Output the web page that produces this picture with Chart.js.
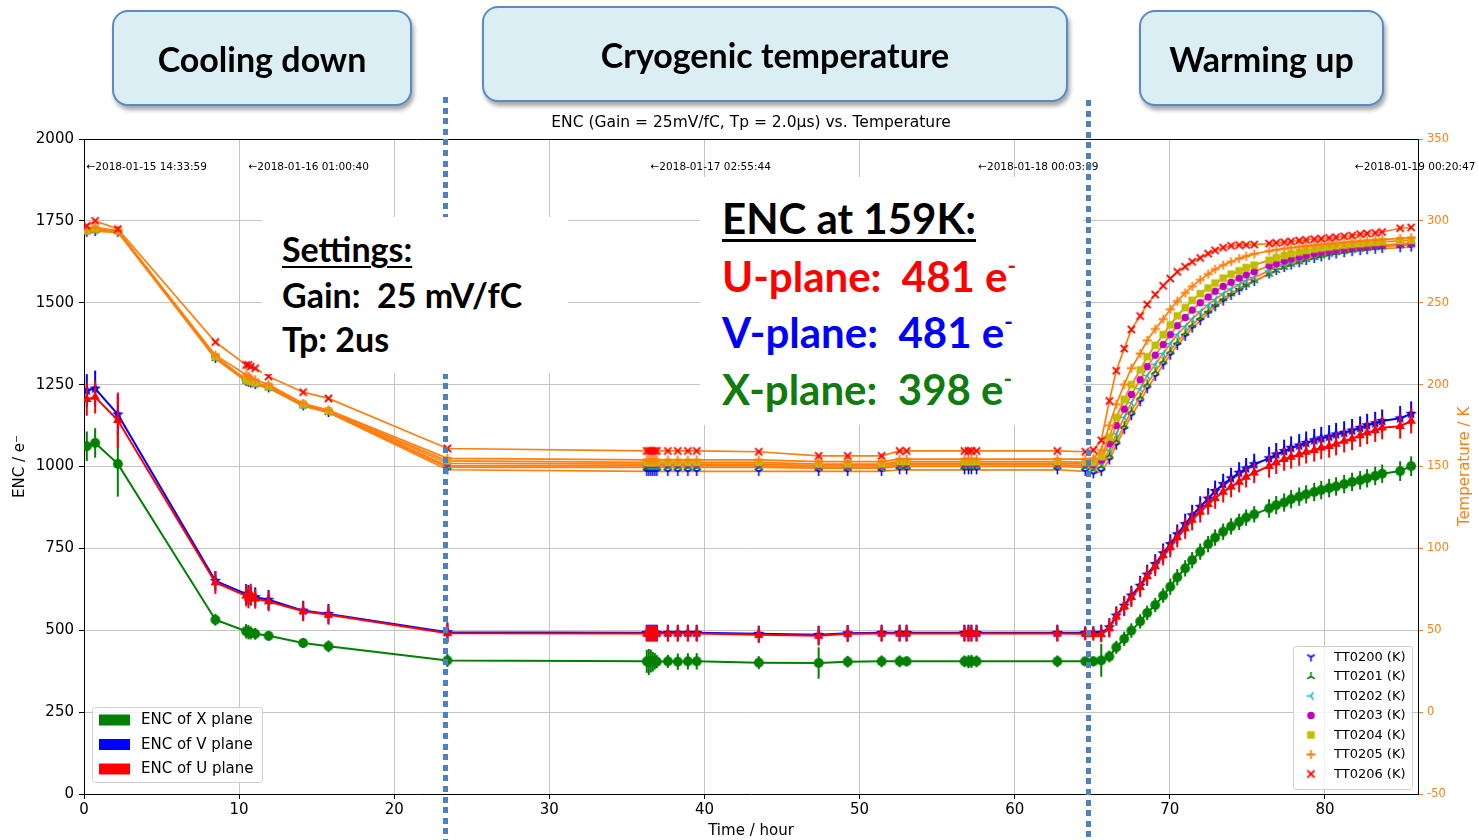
<!DOCTYPE html>
<html><head><meta charset="utf-8">
<script src="https://cdn.jsdelivr.net/npm/chart.js@4.4.1/dist/chart.umd.min.js"></script>
<style>
body{margin:0;background:#fff;}
#wrap{position:relative;width:1478px;height:840px;overflow:hidden;background:#fff;}
#c{position:absolute;left:0;top:0;}
.vline{position:absolute;width:5px;background:repeating-linear-gradient(to bottom,#4f81bd 0,#4f81bd 6px,rgba(0,0,0,0) 6px,rgba(0,0,0,0) 10.6px);}
.panel{position:absolute;background:#fff;}
.box{position:absolute;background:#dbeef4;border:2px solid #5b8bc4;border-radius:16px;box-shadow:2px 4px 4px rgba(0,0,0,0.35);box-sizing:border-box;display:flex;align-items:center;justify-content:center;font-family:Lato,sans-serif;font-weight:bold;font-size:34px;color:#000;}
.t{position:absolute;font-family:Lato,sans-serif;font-weight:bold;line-height:1;white-space:nowrap;}
.t sup{font-size:0.55em;vertical-align:0.8em;line-height:0;}
</style></head>
<body><div id="wrap">
<canvas id="c" width="1478" height="840"></canvas>
<div class="vline" style="left:443px;top:97px;height:743px"></div>
<div class="vline" style="left:1086px;top:100px;height:740px"></div>
<div class="panel" style="left:262px;top:217px;width:306px;height:157px"></div>
<div class="panel" style="left:700px;top:177px;width:383px;height:248px"></div>
<div class="box" style="left:112px;top:10px;width:300px;height:96px">Cooling down</div>
<div class="box" style="left:482px;top:6px;width:586px;height:96px">Cryogenic temperature</div>
<div class="box" style="left:1139px;top:10px;width:245px;height:96px">Warming up</div>
<div class="t" style="left:282px;top:232px;font-size:34px;text-decoration:underline;text-decoration-thickness:2px;text-underline-offset:4px">Settings:</div>
<div class="t" style="left:282px;top:278px;font-size:34px">Gain:&nbsp; 25 mV/fC</div>
<div class="t" style="left:282px;top:322px;font-size:34px">Tp: 2us</div>
<div class="t" style="left:722px;top:197px;font-size:42px;text-decoration:underline;text-decoration-thickness:3px;text-underline-offset:5px">ENC at 159K:</div>
<div class="t" style="left:722px;top:255px;font-size:42px;color:#ff0000">U-plane:&nbsp; 481 e<sup>-</sup></div>
<div class="t" style="left:722px;top:311px;font-size:42px;color:#0000ff">V-plane:&nbsp; 481 e<sup>-</sup></div>
<div class="t" style="left:722px;top:368px;font-size:42px;color:#107c10">X-plane:&nbsp; 398 e<sup>-</sup></div>
</div>
<script>
// ---------------- data ----------------
const hours = [0.18, 0.72, 2.18, 8.47, 10.45, 10.6, 10.75, 11.04, 11.9, 14.13, 15.76, 23.43,
 36.28, 36.41, 36.54, 36.67, 36.8, 36.93, 37.64, 38.28, 38.93, 39.5, 43.5, 47.36, 49.23, 51.42, 52.58, 53.03, 56.76, 57.02, 57.21, 57.54, 62.75,
 64.55, 65.07, 65.58, 66.1, 66.55, 67.06, 67.52, 68.09, 68.54, 69.06, 69.57, 70.03, 70.48, 70.99, 71.44, 71.96, 72.47, 72.92, 73.44, 73.95, 74.47, 74.92, 75.44, 76.4, 76.86, 77.37, 77.82, 78.34, 78.79, 79.31, 79.76, 80.27, 80.72, 81.24, 81.75, 82.27, 82.72, 83.24, 83.69, 84.85, 85.56];

const encX = [1062, 1072, 1008, 532, 497, 494, 492, 489, 483, 461, 451, 408,
 405, 403, 406, 404, 405, 404, 405, 404, 405, 405, 401, 400, 404, 405, 405, 405, 405, 404, 405, 405, 405,
 405, 405, 408, 420, 448, 474, 499, 527, 553, 577, 606, 633, 662, 689, 714, 740, 763, 783, 801, 817, 831, 844, 854, 872, 882, 890, 900, 908, 915, 922, 928, 934, 939, 946, 953, 958, 964, 971, 978, 986, 1001];
const encV = [1232, 1238, 1159, 651, 611, 608, 605, 601, 593, 560, 550, 494,
 492, 492, 492, 492, 492, 492, 492, 492, 492, 492, 489, 486, 491, 492, 492, 492, 492, 492, 492, 492, 492,
 492, 492, 492, 509, 545, 575, 606, 636, 670, 702, 735, 763, 793, 824, 851, 877, 902, 925, 946, 964, 981, 994, 1007, 1025, 1037, 1047, 1057, 1064, 1072, 1080, 1086, 1091, 1098, 1103, 1110, 1118, 1126, 1132, 1139, 1147, 1161];
const encU = [1205, 1212, 1141, 646, 605, 599, 610, 596, 588, 558, 547, 491,
 490, 490, 490, 490, 490, 490, 490, 490, 490, 490, 486, 483, 489, 490, 490, 490, 490, 490, 490, 490, 490,
 489, 488, 488, 506, 542, 573, 601, 631, 665, 695, 728, 753, 783, 811, 837, 861, 885, 903, 922, 938, 953, 968, 981, 1001, 1012, 1022, 1029, 1037, 1044, 1050, 1057, 1062, 1069, 1078, 1085, 1095, 1103, 1110, 1118, 1123, 1139];

const errX = [45, 45, 100, 18, 22, 22, 20, 18, 15, 15, 18, 20,
 35, 40, 35, 30, 25, 20, 20, 25, 25, 25, 20, 48, 18, 18, 18, 15, 18, 20, 20, 18, 18,
 12, 15, 50, 18, 20, 22, 22, 22, 22, 22, 22, 25, 25, 25, 25, 25, 25, 25, 25, 25, 25, 25, 25, 28, 28, 28, 28, 28, 28, 28, 28, 28, 28, 28, 28, 28, 28, 28, 28, 30, 30];
const errV = [50, 55, 60, 30, 30, 30, 30, 30, 30, 30, 30, 30,
 25, 25, 25, 25, 25, 25, 25, 25, 25, 25, 25, 28, 25, 25, 25, 25, 25, 25, 25, 25, 25,
 20, 20, 25, 28, 28, 30, 30, 30, 30, 30, 30, 30, 30, 32, 32, 32, 32, 32, 32, 32, 32, 32, 32, 35, 35, 35, 35, 35, 35, 35, 35, 35, 35, 35, 35, 35, 35, 35, 35, 38, 38];
const errU = [50, 50, 85, 35, 32, 32, 32, 30, 30, 30, 30, 30,
 25, 25, 25, 25, 25, 25, 25, 25, 25, 25, 25, 30, 25, 25, 25, 25, 25, 25, 25, 25, 25,
 20, 20, 25, 28, 28, 30, 30, 30, 30, 30, 30, 30, 30, 32, 32, 32, 32, 32, 32, 32, 32, 32, 32, 35, 35, 35, 35, 35, 35, 35, 35, 35, 35, 35, 35, 35, 35, 35, 35, 38, 38];

const tt0200 = [293, 293.5, 293, 216, 202, 201.5, 201, 200, 198, 187, 183, 148,
 147, 147, 147, 147, 147, 147, 147, 147, 147, 147, 147, 147, 147, 147, 148, 148, 148, 148, 148, 148, 148,
 147, 145.5, 147, 154, 163, 172.5, 181, 189.5, 197.5, 205, 212, 218, 224, 229.5, 234.5, 239, 243.5, 247.5, 251, 254.5, 257.5, 260.5, 263, 267.5, 269.7, 271.5, 273, 274.5, 275.8, 277, 278, 279, 279.8, 280.5, 281.2, 281.8, 282.3, 282.7, 283.1, 283.6, 284];
const tt0201 = [293.5, 294, 293.5, 216, 202, 201.5, 201, 200, 198, 187, 183, 149.5,
 149.5, 149.5, 149.5, 149.5, 149.5, 149.5, 149.5, 149.5, 149.5, 149.5, 149.5, 149, 149, 149, 150, 150, 150, 150, 150, 150, 150,
 149.5, 148, 150, 157, 166, 175, 184, 192.5, 200.5, 208, 214.5, 220.5, 226, 231.5, 236.5, 241, 245, 249, 252.5, 255.5, 258.5, 261, 263.5, 267.5, 269.7, 271.7, 273.5, 275, 276.4, 277.7, 278.8, 279.8, 280.7, 281.5, 282.2, 282.8, 283.3, 283.8, 284.2, 285, 285.4];
const tt0202 = [294, 294.5, 294, 216.5, 202.5, 202, 201.5, 200.5, 198.5, 187.5, 183.5, 150.5,
 150.5, 150.5, 150.5, 150.5, 150.5, 150.5, 150.5, 150.5, 150.5, 150.5, 150.5, 149.5, 149.5, 149.5, 151, 151, 151, 151, 151, 151, 151,
 150.5, 149.5, 152, 160, 170, 180, 189, 197.5, 205.5, 212.5, 219, 225, 230.5, 235.5, 240, 244.5, 248.5, 252, 255.5, 258.5, 261, 263.5, 265.5, 269.5, 271.5, 273.3, 274.9, 276.3, 277.5, 278.6, 279.6, 280.5, 281.3, 282, 282.7, 283.3, 283.8, 284.3, 284.7, 285.4, 285.8];
const tt0203 = [294, 295, 294, 217, 203, 202, 202, 201, 199, 188, 184, 152,
 151.5, 151.5, 151.5, 151.5, 151.5, 151.5, 151.5, 151.5, 151.5, 151.5, 151.5, 150.5, 150.5, 150.5, 152, 152, 152, 152, 152, 152, 152,
 151.5, 151, 154, 164, 175, 185, 194, 203, 211, 218, 224.5, 230.5, 236, 241, 245.5, 250, 253.5, 257, 260, 262.5, 265, 267, 269, 272.5, 274, 275.5, 276.8, 278, 279, 280, 280.8, 281.6, 282.3, 282.9, 283.5, 284, 284.5, 284.9, 285.3, 286, 286.4];
const tt0204 = [294, 295, 294, 217, 203, 202.5, 202, 201, 199, 188, 184, 153.4,
 152.5, 152.5, 152.5, 152.5, 152.5, 152.5, 152.5, 152.5, 152.5, 152.5, 152.5, 151.5, 151.5, 151.5, 153, 153, 153, 153, 153, 153, 153,
 152.5, 152.5, 156, 168, 180, 191, 200, 209, 217, 224, 230.5, 236.5, 242, 247, 251.5, 255.5, 259, 262, 265, 267.5, 269.5, 271.5, 273, 276, 277.5, 278.8, 280, 281, 282, 282.8, 283.5, 284.1, 284.7, 285.2, 285.7, 286.1, 286.5, 286.9, 287.2, 287.8, 288.2];
const tt0205 = [295, 296, 294, 218, 206, 205, 204, 203, 200, 188.5, 184.5, 155,
 154, 154, 154, 154, 154, 154, 154, 154, 154, 154, 154, 153, 153, 153, 154.5, 154.5, 154.5, 154.5, 154.5, 154.5, 154.5,
 154.5, 155, 160, 175, 188, 200, 210, 219, 227, 234, 240, 246, 251, 256, 260, 264, 267.5, 270.5, 273, 275, 277, 278.5, 279.8, 281.6, 282.3, 283, 283.6, 284.2, 284.7, 285.2, 285.6, 286, 286.4, 286.8, 287.2, 287.6, 288, 288.3, 288.6, 289.3, 289.7];
const tt0206 = [297, 300, 295, 226, 212, 212, 211, 210, 205, 195.4, 191.6, 161,
 159.5, 159.5, 159.5, 159.5, 159.5, 159.5, 159.5, 159.5, 159.5, 159.5, 159, 156.5, 156.5, 156.5, 159.5, 159.5, 159.5, 159.5, 159.5, 159.5, 159.5,
 159, 160, 166, 190, 208.5, 222, 233.7, 241.9, 249, 255, 260.4, 264.8, 268.9, 272, 275, 277.4, 280, 282, 283.7, 284.8, 285.2, 285.3, 285.5, 286.2, 286.6, 287, 287.5, 288, 288.4, 288.8, 289.1, 289.6, 290, 290.6, 291, 291.9, 292.3, 292.6, 293.2, 295.5, 296];

const sensorNames = ['TT0200 (K)', 'TT0201 (K)', 'TT0202 (K)', 'TT0203 (K)', 'TT0204 (K)', 'TT0205 (K)', 'TT0206 (K)'];
const planeNames = ['ENC of X plane', 'ENC of V plane', 'ENC of U plane'];
const dateLabels = ['\u21902018-01-15 14:33:59', '\u21902018-01-16 01:00:40', '\u21902018-01-17 02:55:44', '\u21902018-01-18 00:03:09', '\u21902018-01-19 00:20:47'];
const dateHours = [0, 10.445, 36.363, 57.486, 81.78];
const chartTitle = 'ENC (Gain = 25mV/fC, Tp = 2.0\u03bcs) vs. Temperature';

// ---------------- styles ----------------
const ORANGE = '#ff7f0e';
const FONT = 'DejaVu Sans';
Chart.defaults.font.family = FONT;
Chart.defaults.color = '#000';

function marker(kind, color, r) {
  const c = document.createElement('canvas');
  const s = Math.ceil(r * 2 + 4);
  c.width = s; c.height = s;
  const g = c.getContext('2d');
  g.translate(s / 2, s / 2);
  g.strokeStyle = color; g.fillStyle = color; g.lineWidth = 1.6; g.lineCap = 'butt';
  const spokes = (pts) => { g.beginPath(); pts.forEach(p => { g.moveTo(0, 0); g.lineTo(p[0] * r, p[1] * r); }); g.stroke(); };
  if (kind === 'tri_down') spokes([[0, 1], [-0.85, -0.5], [0.85, -0.5]]);
  else if (kind === 'tri_up') spokes([[0, -1], [-0.85, 0.5], [0.85, 0.5]]);
  else if (kind === 'tri_left') spokes([[-1, 0], [0.5, -0.85], [0.5, 0.85]]);
  else if (kind === 'plus') { g.lineWidth = 1.8; spokes([[1, 0], [-1, 0], [0, 1], [0, -1]]); }
  else if (kind === 'x') { g.lineWidth = 1.8; spokes([[0.8, 0.8], [-0.8, -0.8], [0.8, -0.8], [-0.8, 0.8]]); }
  else if (kind === 'circle') { g.beginPath(); g.arc(0, 0, r * 0.85, 0, Math.PI * 2); g.fill(); }
  else if (kind === 'square') { g.fillRect(-r * 0.85, -r * 0.85, r * 1.7, r * 1.7); }
  else if (kind === 'star') {
    g.beginPath();
    for (let i = 0; i < 10; i++) {
      const a = -Math.PI / 2 + i * Math.PI / 5;
      const rr = i % 2 === 0 ? r : r * 0.45;
      g.lineTo(Math.cos(a) * rr, Math.sin(a) * rr);
    }
    g.closePath(); g.fill();
  }
  return c;
}

const sensorSeries = [tt0200, tt0201, tt0202, tt0203, tt0204, tt0205, tt0206];
const sensorMarkers = [
  marker('tri_down', '#0000ff', 4.5),
  marker('tri_up', '#008000', 4.5),
  marker('tri_left', '#00bfbf', 4.5),
  marker('circle', '#bf00bf', 4.5),
  marker('square', '#bfbf00', 4.5),
  marker('plus', ORANGE, 4.5),
  marker('x', '#ff0000', 4.5)
];
const planeSeries = [encX, encV, encU];
const planeErr = [errX, errV, errU];
const planeColors = ['#008000', '#0000ff', '#ff0000'];
const planeMarkers = [
  marker('circle', '#008000', 5.8),
  marker('star', '#0000ff', 6),
  null
];

const datasets = [];
planeSeries.forEach((vals, k) => {
  datasets.push({
    label: planeNames[k],
    data: hours.map((h, i) => ({ x: h, y: vals[i] })),
    errors: planeErr[k],
    yAxisID: 'y',
    borderColor: planeColors[k],
    backgroundColor: planeColors[k],
    borderWidth: 2,
    pointStyle: planeMarkers[k] || 'triangle',
    pointRadius: 5.5,
    pointBorderWidth: 0,
    pointBackgroundColor: planeColors[k],
    tension: 0,
    order: 10 - k
  });
});
sensorSeries.forEach((vals, k) => {
  datasets.push({
    label: sensorNames[k],
    data: hours.map((h, i) => ({ x: h, y: vals[i] })),
    yAxisID: 'y2',
    borderColor: ORANGE,
    backgroundColor: ORANGE,
    borderWidth: 1.7,
    pointStyle: sensorMarkers[k],
    pointRadius: 4,
    tension: 0,
    order: 7 - k
  });
});

const errorBars = {
  id: 'errorBars',
  beforeDatasetDraw(chart, args) {
    const ds = chart.data.datasets[args.index];
    if (!ds.errors) return;
    const ys = chart.scales[ds.yAxisID];
    const ctx = chart.ctx;
    ctx.save();
    ctx.strokeStyle = ds.borderColor;
    ctx.lineWidth = 2;
    args.meta.data.forEach((pt, i) => {
      const v = ds.data[i].y, e = ds.errors[i];
      ctx.beginPath();
      ctx.moveTo(pt.x, ys.getPixelForValue(v - e));
      ctx.lineTo(pt.x, ys.getPixelForValue(v + e));
      ctx.stroke();
    });
    ctx.restore();
  }
};

const extras = {
  id: 'extras',
  afterDraw(chart) {
    const ctx = chart.ctx, a = chart.chartArea;
    const xs = chart.scales.x, ys = chart.scales.y;
    ctx.save();
    // top spine
    ctx.strokeStyle = '#000'; ctx.lineWidth = 1;
    ctx.beginPath(); ctx.moveTo(a.left, a.top + 0.5); ctx.lineTo(a.right, a.top + 0.5); ctx.stroke();
    // date annotations
    ctx.fillStyle = '#000';
    ctx.font = '10.5px "' + FONT + '"';
    ctx.textBaseline = 'middle'; ctx.textAlign = 'left';
    dateLabels.forEach((t, i) => {
      ctx.fillText(t, xs.getPixelForValue(dateHours[i]) + 2.5, ys.getPixelForValue(1915));
    });
    // right axis title
    ctx.save();
    ctx.translate(1465, (a.top + a.bottom) / 2);
    ctx.rotate(-Math.PI / 2);
    ctx.fillStyle = ORANGE; ctx.textAlign = 'center'; ctx.textBaseline = 'middle';
    ctx.font = '15px "' + FONT + '"';
    ctx.fillText('Temperature / K', 0, 0);
    ctx.restore();
    // legend: planes
    const box = (x, y, w, h) => {
      ctx.beginPath(); ctx.roundRect(x + 0.5, y + 0.5, w, h, 3);
      ctx.fillStyle = 'rgba(255,255,255,0.8)'; ctx.fill();
      ctx.strokeStyle = '#d0d0d0'; ctx.lineWidth = 1; ctx.stroke();
    };
    box(92, 707, 170, 75);
    ctx.font = '15px "' + FONT + '"'; ctx.textBaseline = 'middle'; ctx.textAlign = 'left';
    planeNames.forEach((n, i) => {
      const cy = 720 + i * 24.5;
      ctx.fillStyle = planeColors[i];
      ctx.fillRect(99, cy - 5.5, 31, 11);
      ctx.fillStyle = '#000';
      ctx.fillText(n, 141, cy + 0.5);
    });
    // legend: sensors
    box(1293, 646, 119, 143);
    ctx.font = '13px "' + FONT + '"';
    sensorNames.forEach((n, i) => {
      const cy = 657 + i * 19.5;
      const m = sensorMarkers[i];
      ctx.drawImage(m, 1311 - m.width / 2, cy - m.height / 2);
      ctx.fillStyle = '#000';
      ctx.fillText(n, 1334, cy + 0.5);
    });
    ctx.restore();
  }
};

const plainTick = (v) => String(v);

new Chart(document.getElementById('c'), {
  type: 'line',
  data: { datasets },
  plugins: [errorBars, extras],
  options: {
    responsive: false,
    animation: false,
    events: [],
    layout: { padding: 0 },
    plugins: {
      legend: { display: false },
      tooltip: { enabled: false },
      title: {
        display: true, text: chartTitle, color: '#000', fullSize: false,
        font: { family: FONT, size: 15.5, weight: 'normal', lineHeight: 1.2 },
        padding: { top: 114, bottom: 6.4 }
      }
    },
    scales: {
      x: {
        type: 'linear', min: 0, max: 86,
        afterFit(s) { s.height = 46; },
        ticks: { stepSize: 10, includeBounds: false, color: '#000', font: { family: FONT, size: 15 }, padding: 2, maxRotation: 0, callback: plainTick },
        grid: { color: '#c4c4c4', lineWidth: 1, tickLength: 5, tickColor: '#000' },
        border: { color: '#000', width: 1 },
        title: { display: true, text: 'Time / hour', color: '#000', font: { family: FONT, size: 15 }, padding: { top: 0, bottom: 0 } }
      },
      y: {
        position: 'left', min: 0, max: 2000,
        afterFit(s) { s.width = 84; },
        ticks: { stepSize: 250, includeBounds: false, color: '#000', font: { family: FONT, size: 15 }, padding: 5, callback: plainTick },
        grid: { color: '#c4c4c4', lineWidth: 1, tickLength: 5, tickColor: '#000' },
        border: { color: '#000', width: 1 },
        title: { display: true, text: 'ENC / e\u207b', color: '#000', font: { family: FONT, size: 15 }, padding: { top: 11, bottom: 0 } }
      },
      y2: {
        position: 'right', min: -50, max: 350,
        afterFit(s) { s.width = 60; },
        ticks: { stepSize: 50, includeBounds: false, color: ORANGE, font: { family: FONT, size: 11.5 }, padding: 4, callback: plainTick },
        grid: { drawOnChartArea: false, tickLength: 5, tickColor: ORANGE, color: ORANGE },
        border: { color: '#000', width: 1 }
      }
    }
  }
});
</script>
</body></html>
